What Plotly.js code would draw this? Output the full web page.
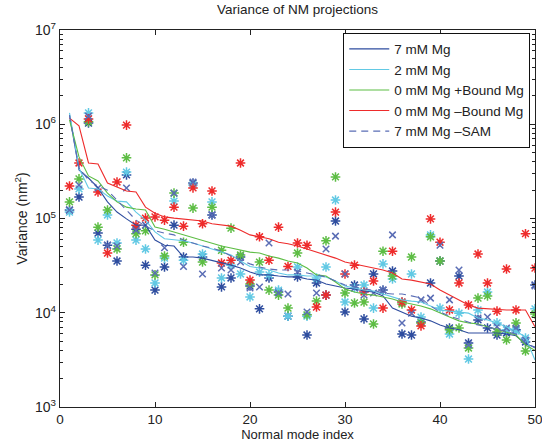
<!DOCTYPE html>
<html><head><meta charset="utf-8">
<script src="https://cdn.plot.ly/plotly-3.0.1.min.js"></script>
<style>html,body{margin:0;padding:0;background:#fff}#chart{width:542px;height:442px}</style>
</head><body><div id="chart"></div>
<script>
const modeIndex = [1,2,3,4,5,6,7,8,9,10,11,12,13,14,15,16,17,18,19,20,21,22,23,24,25,26,27,28,29,30,31,32,33,34,35,36,37,38,39,40,41,42,43,44,45,46,47,48,49,50];
const seriesNames = ['7 mM Mg','2 mM Mg','0 mM Mg +Bound Mg','0 mM Mg \u2013Bound Mg','7 mM Mg \u2013SAM'];

// sorted variance curves (lines)
const line7mM = [1.25e6,3.27e5,2.69e5,2.11e5,1.50e5,1.17e5,9.9e4,8.5e4,8.5e4,5.9e4,5.2e4,5.1e4,3.9e4,3.9e4,3.8e4,3.6e4,3.37e4,3.2e4,2.98e4,2.7e4,2.52e4,2.52e4,2.45e4,2.4e4,2.4e4,2.28e4,2.22e4,2.02e4,1.92e4,1.83e4,1.79e4,1.70e4,1.66e4,1.51e4,1.12e4,1.02e4,9.2e3,8.8e3,8.2e3,7.4e3,6.9e3,6.6e3,6.1e3,6.1e3,6.1e3,6.1e3,5.95e3,5.7e3,4.65e3,4.33e3];
const line2mM = [1.32e6,3.43e5,2.11e5,2.06e5,1.73e5,1.53e5,1.50e5,1.17e5,9.6e4,7.2e4,6.1e4,5.9e4,5.8e4,5.5e4,5.1e4,4.75e4,4.4e4,4.1e4,3.54e4,3.1e4,2.98e4,2.84e4,2.64e4,2.52e4,2.52e4,2.45e4,2.45e4,2.4e4,2.17e4,1.92e4,1.83e4,1.74e4,1.70e4,1.58e4,1.47e4,1.37e4,1.33e4,1.30e4,1.18e4,1.07e4,1.04e4,1.02e4,9.9e3,8.8e3,8.4e3,7.8e3,7.1e3,6.4e3,5.5e3,3.15e3];
const line0mMBound = [1.11e6,4.5e5,2.83e5,2.5e5,1.86e5,1.50e5,1.32e5,1.26e5,1.23e5,8.1e4,7.7e4,7.2e4,6.7e4,6.2e4,5.8e4,5.5e4,5.1e4,4.86e4,4.6e4,4.4e4,4.3e4,4.0e4,3.8e4,3.54e4,3.37e4,2.98e4,2.52e4,2.45e4,2.12e4,1.79e4,1.66e4,1.58e4,1.54e4,1.47e4,1.40e4,1.30e4,1.24e4,1.18e4,1.10e4,9.9e3,9.0e3,8.2e3,7.8e3,7.6e3,7.1e3,6.6e3,6.25e3,5.8e3,4.55e3,4.0e3];
const line0mMNoBound = [1.16e6,9.6e5,3.88e5,3.79e5,2.38e5,2.16e5,1.96e5,1.91e5,1.32e5,1.14e5,1.04e5,1.01e5,9.9e4,9.6e4,9.4e4,8.8e4,8.5e4,8.3e4,7.5e4,6.7e4,6.4e4,6.1e4,5.6e4,5.4e4,5.1e4,4.75e4,4.4e4,4.1e4,3.8e4,3.45e4,3.3e4,3.1e4,2.98e4,2.84e4,2.64e4,2.28e4,2.22e4,2.12e4,2.02e4,1.74e4,1.54e4,1.37e4,1.21e4,1.12e4,1.10e4,1.07e4,1.07e4,1.07e4,1.07e4,7.1e3];
const line7mMNoSAM = [1.25e6,3.43e5,2.56e5,2.21e5,2.0e5,1.57e5,1.23e5,9.6e4,8.3e4,7.4e4,7.0e4,6.7e4,5.9e4,5.5e4,5.1e4,4.86e4,4.5e4,4.0e4,3.6e4,3.3e4,3.06e4,2.91e4,2.84e4,2.84e4,2.77e4,2.64e4,2.52e4,2.4e4,2.17e4,1.97e4,1.88e4,1.79e4,1.74e4,1.62e4,1.58e4,1.58e4,1.51e4,1.43e4,1.18e4,1.02e4,9.2e3,8.6e3,8.0e3,7.4e3,7.1e3,6.7e3,6.4e3,5.95e3,4.78e3,4.23e3];

// projection variances (markers)
const pts7mM = [1.23e5,1.69e5,1.03e6,7.0e4,5.2e4,3.54e4,2.9e5,7.7e4,3.2e4,1.74e4,3.06e4,8.5e4,3.9e4,2.38e5,3.9e4,1.09e5,1.88e4,2.34e4,3.9e4,1.92e4,1.10e4,2.34e4,1.66e4,9.2e3,2.4e4,5.8e3,2.07e4,1.54e4,9.4e4,1.02e4,1.97e4,8.6e3,2.58e4,1.74e4,2.77e4,5.95e3,5.8e3,8.0e3,2.07e4,3.54e4,6.9e3,2.45e4,4.78e3,8.4e3,6.9e3,5.8e3,6.1e3,6.6e3,4.9e3,1.97e4];
const pts2mM = [1.17e5,2.06e5,1.32e6,5.9e4,1.09e5,5.5e4,3.11e5,5.9e4,4.75e4,2.07e4,3.8e4,1.53e5,3.6e4,2.27e5,4.2e4,1.50e5,2.34e4,3.2e4,2.58e4,1.47e4,2.7e4,2.52e4,1.74e4,9.2e3,3.06e4,9.2e3,2.34e4,3.06e4,1.57e5,1.30e4,1.83e4,1.97e4,1.12e4,3.3e4,2.28e4,1.30e4,2.58e4,9.0e3,6.7e4,1.12e4,5.95e3,9.9e3,3.23e3,1.07e4,1.66e4,7.8e3,6.6e3,6.4e3,5.4e3,1.10e4];
const pts0mMBound = [1.50e5,2.63e5,1.06e6,8.1e4,1.23e5,4.75e4,4.4e5,6.9e4,7.4e4,2.52e4,4.0e4,1.86e5,5.6e4,1.29e5,3.45e4,1.32e5,4.6e4,7.9e4,4.1e4,2.02e4,3.45e4,1.74e4,1.54e4,1.12e4,4.3e4,9.5e3,1.33e4,5.8e4,2.76e5,1.62e4,1.27e4,1.30e4,7.6e3,4.5e4,2.45e4,1.24e4,3.9e4,7.8e3,6.4e4,3.54e4,6.6e3,6.9e3,4.23e3,1.43e4,1.51e4,6.25e3,5.15e3,7.8e3,3.93e3,9.7e3];
const pts0mMNoBound = [2.21e5,3.88e5,1.14e6,1.91e5,4.3e4,2.44e5,9.8e5,8.5e4,1.01e5,1.04e5,9.6e4,1.32e5,8.3e4,2.11e5,8.8e4,1.96e5,3.37e4,3.6e4,3.88e5,2.22e4,6.4e4,3.6e4,8.1e4,3.1e4,5.5e4,5.2e4,1.15e4,1.54e4,1.17e5,2.58e4,3.2e4,1.66e4,2.17e4,1.12e4,4.5e4,1.30e4,1.07e4,7.25e3,9.9e4,5.6e4,1.07e4,2.07e4,1.21e4,4.2e4,2.07e4,1.04e4,2.91e4,1.07e4,6.9e4,2.98e4];
const pts7mMNoSAM = [1.23e5,2.27e5,1.22e6,2.11e5,5.2e4,5.1e4,2.11e5,7.5e4,8.5e4,2.64e4,4.9e4,1.86e5,3.1e4,2.44e5,2.58e4,1.09e5,2.98e4,2.84e4,3.45e4,1.83e4,1.88e4,5.5e4,1.62e4,1.58e4,2.7e4,1.02e4,1.62e4,4.75e4,6.5e4,2.58e4,1.83e4,1.54e4,1.62e4,1.74e4,6.7e4,7.8e3,9.9e3,1.37e4,1.43e4,5.2e4,1.37e4,2.84e4,4.55e3,8.8e3,9.0e3,7.1e3,6.9e3,6.9e3,5.15e3,1.92e4];

const yTickVals = [1e3,1e4,1e5,1e6,1e7];
const yTickText = ['10<sup>3</sup>','10<sup>4</sup>','10<sup>5</sup>','10<sup>6</sup>','10<sup>7</sup>'];
const xTickVals = [0,10,20,30,40,50];

const colors = ['#2e4d9f','#62c9e4','#5dbd44','#ee2b2b','#5a6db5'];
const lines = [line7mM,line2mM,line0mMBound,line0mMNoBound,line7mMNoSAM];
const pts = [pts7mM,pts2mM,pts0mMBound,pts0mMNoBound,pts7mMNoSAM];

const traces = [];
pts.forEach((p,i)=>{
  traces.push({x:modeIndex,y:p,type:'scatter',mode:'markers',showlegend:false,hoverinfo:'skip',
    marker:{symbol: i===4 ? 'x-thin-open' : 'asterisk-open', size: i===4 ? 6.5 : 8,
      color:colors[i], line:{color: i===4 ? '#3b54a6' : colors[i], width:1.5}}});
});
lines.forEach((l,i)=>{
  traces.push({x:modeIndex,y:l,type:'scatter',mode:'lines',name:seriesNames[i],
    line:{color:colors[i],width:1.1,dash: i===4 ? '7px,5px' : 'solid'}});
});

const minorVals = [];
for (let d=3; d<7; d++) for (let m=2; m<10; m++) minorVals.push(m*Math.pow(10,d));

const fam = 'Liberation Sans, Arial, Helvetica, sans-serif';
const layout = {
  width:542, height:442,
  margin:{l:59.5,r:7,t:30,b:35,pad:0},
  paper_bgcolor:'#fff', plot_bgcolor:'#fff',
  font:{family:fam, size:13.5, color:'#222'},
  title:{text:'Variance of NM projections', x:0.5, xref:'paper', xanchor:'center', y:1, yref:'container', yanchor:'top', pad:{t:5}, font:{family:fam,size:13.5,color:'#222'}},
  xaxis:{range:[0,50], tickvals:xTickVals, ticks:'inside', ticklen:5, tickwidth:1, tickcolor:'#222',
    showline:true, linecolor:'#222', linewidth:1.2, mirror:'ticks', showgrid:false, zeroline:false,
    ticklabeloverflow:'allow', automargin:false,
    tickfont:{size:13.5,color:'#222'},
    title:{text:'Normal mode index', standoff:0, font:{size:13,color:'#222'}}},
  yaxis:{type:'log', range:[3,7], tickvals:yTickVals, ticktext:yTickText, ticks:'inside', ticklen:5, tickwidth:1, tickcolor:'#222',
    minor:{tickmode:'array', tickvals:minorVals, ticks:'inside', ticklen:3, tickcolor:'#222', showgrid:false},
    showline:true, linecolor:'#222', linewidth:1.2, mirror:'ticks', showgrid:false, zeroline:false,
    automargin:false,
    tickfont:{size:14,color:'#222'},
    title:{text:'Variance (nm<sup>2</sup>)', standoff:4, font:{size:14,color:'#222'}}},
  legend:{x:0.99, xanchor:'right', y:0.993, yanchor:'top', bgcolor:'#fff', bordercolor:'#111', borderwidth:1,
    font:{size:13.5,color:'#222'}, tracegroupgap:0, itemwidth:40},
  showlegend:true
};
Plotly.newPlot('chart', traces, layout, {displayModeBar:false, staticPlot:true});
</script></body></html>
